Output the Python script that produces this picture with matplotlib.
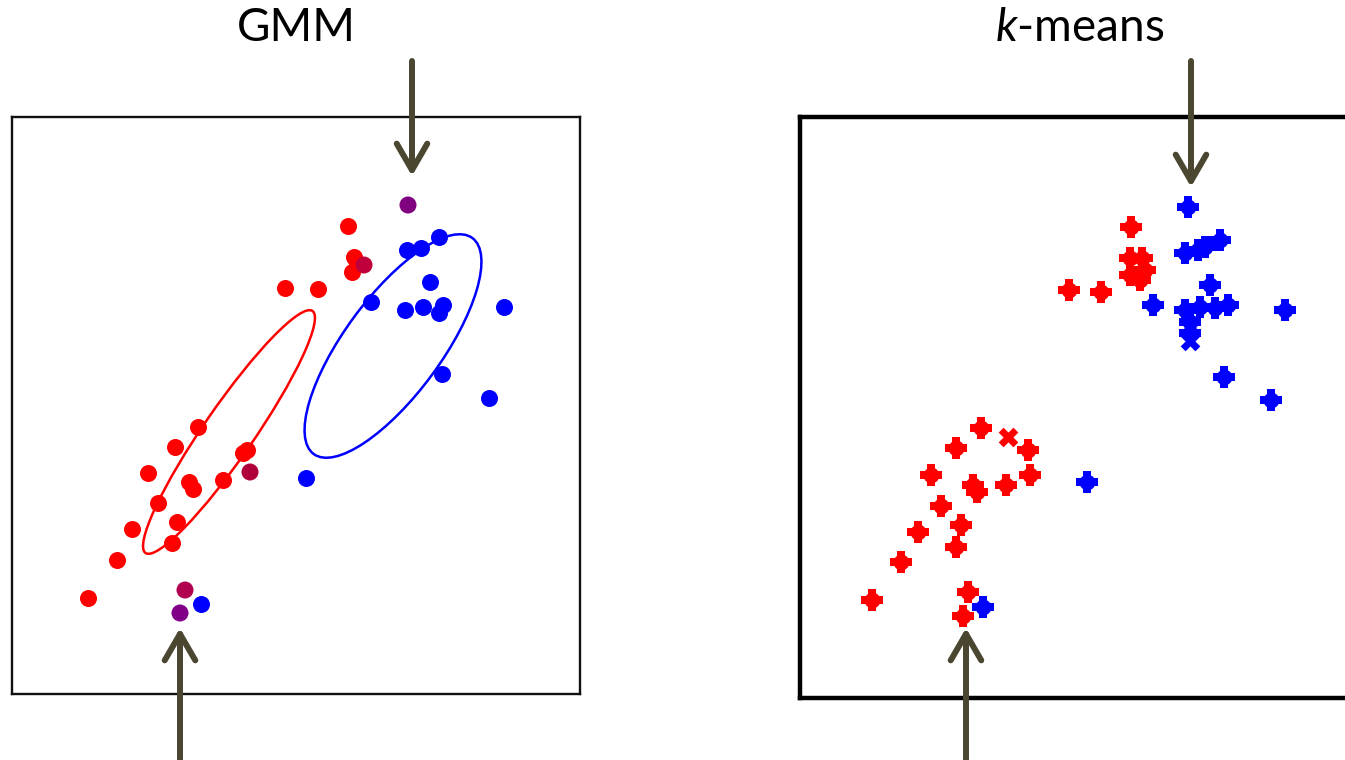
import matplotlib.pyplot as plt
from matplotlib.patches import Ellipse, FancyArrowPatch

plt.rcParams['font.family'] = ['Lato', 'DejaVu Sans']
plt.rcParams['mathtext.fontset'] = 'custom'
plt.rcParams['mathtext.it'] = 'Lato:italic'
plt.rcParams['mathtext.rm'] = 'Lato'

# GMM panel (local pixel-like units, y up)
gmm_red_x = [336, 342, 345, 340, 273, 306, 186, 163, 136, 177, 181, 146, 211, 235, 231, 165, 120, 160, 105, 76]
gmm_red_y = [468, 437, 431, 422, 406, 405, 267, 247, 221, 212, 205, 191, 214, 244, 241, 172, 165, 151, 134, 96]
gmm_blue_x = [427, 409, 395, 418, 359, 393, 411, 431, 427, 492, 430, 477, 294, 189]
gmm_blue_y = [457, 446, 444, 412, 392, 384, 387, 389, 381, 387, 320, 296, 216, 90]
gmm_mix_x = [352, 238, 173, 396, 168]
gmm_mix_y = [429, 222, 104, 489, 81]
gmm_mix_c = ['#c0003a', '#b0003c', '#b0004f', '#800080', '#800088']
# covariance ellipses: center x, center y, width, height, angle
ell_red = (217, 262, 294, 50, 55.4)
ell_blue = (381, 348, 268, 97, 53.7)

# k-means panel
km_red_x = [331, 330, 342, 330, 345, 340, 269, 301, 181, 228, 156, 230, 131, 173, 177, 206, 141, 161, 118, 156, 101, 72, 168, 163]
km_red_y = [471, 440, 440, 423, 428, 418, 408, 406, 270, 248, 250, 223, 223, 213, 206, 213, 192, 173, 166, 151, 136, 98, 106, 82]
km_blue_x = [388, 385, 398, 405, 420, 410, 353, 385, 400, 415, 428, 390, 390, 485, 424, 471, 287, 183]
km_blue_y = [491, 445, 448, 451, 458, 413, 393, 388, 391, 390, 393, 376, 365, 388, 321, 298, 216, 91]
km_x_pts = [(208, 261, 'red'), (390, 357, 'blue')]

W, H = 1345, 760
fig = plt.figure(figsize=(W / 100, H / 100), dpi=100)

def frac(x0, y0, x1, y1):
    return [x0 / W, 1 - y1 / H, (x1 - x0) / W, (y1 - y0) / H]

# left panel
ax1 = fig.add_axes(frac(12, 117, 580, 694))
ax1.set_xlim(0, 568)
ax1.set_ylim(0, 577)
ax1.set_xticks([])
ax1.set_yticks([])
for s in ax1.spines.values():
    s.set_linewidth(1.7)
    s.set_color('#111111')
for e, col in [(ell_red, '#ff0000'), (ell_blue, '#0000ff')]:
    ax1.add_patch(Ellipse((e[0], e[1]), e[2], e[3], angle=e[4], fill=False,
                          edgecolor=col, linewidth=1.8))
ax1.scatter(gmm_red_x, gmm_red_y, s=150, color='#ff0000', marker='o', linewidths=0, zorder=3)
ax1.scatter(gmm_blue_x, gmm_blue_y, s=150, color='#0000ff', marker='o', linewidths=0, zorder=3)
ax1.scatter(gmm_mix_x, gmm_mix_y, s=150, c=gmm_mix_c, marker='o', linewidths=0, zorder=4)

# right panel (right edge runs off the figure)
ax2 = fig.add_axes(frac(800, 117, 1360, 698))
ax2.set_xlim(0, 560)
ax2.set_ylim(0, 581)
ax2.set_xticks([])
ax2.set_yticks([])
for s in ax2.spines.values():
    s.set_linewidth(3.2)
    s.set_color('#000000')
for xs, ys, c in [(km_red_x, km_red_y, '#ff0000'), (km_blue_x, km_blue_y, '#0000ff')]:
    ax2.scatter(xs, ys, s=240, color=c, marker='P', linewidths=0, zorder=3)
    ax2.scatter(xs, ys, s=130, color=c, marker='o', linewidths=0, zorder=3)
for x, y, c in km_x_pts:
    ax2.scatter(x, y, s=200, color=c, marker='X', linewidths=0, zorder=3)

# overlay for arrows and titles
ov = fig.add_axes([0, 0, 1, 1])
ov.set_xlim(0, W)
ov.set_ylim(H, 0)
ov.axis('off')
ov.patch.set_alpha(0)

arrows = [((412, 61), (412, 176)), ((180, 760), (180, 628)),
          ((1191, 61), (1191, 187)), ((966, 760), (966, 628))]
for a, b in arrows:
    ov.add_patch(FancyArrowPatch(a, b, arrowstyle='->,head_length=0.95,head_width=0.55',
                                 mutation_scale=20, color='#4b4630', linewidth=4.3,
                                 capstyle='round', joinstyle='round', shrinkA=0, shrinkB=0))

ov.text(296, 28, 'GMM', fontsize=33, ha='center', va='center')
ov.text(1080, 28, '$k$-means', fontsize=33, ha='center', va='center')

plt.savefig('out.png', dpi=100)
